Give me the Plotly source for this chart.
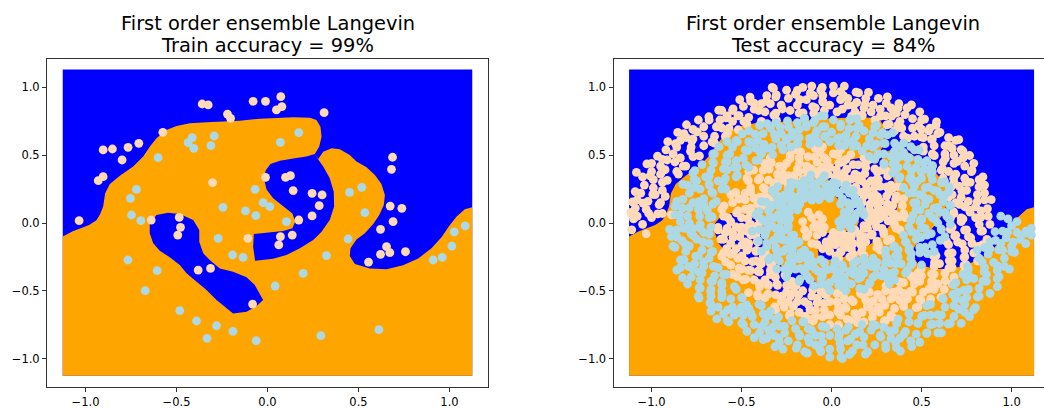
import plotly.graph_objects as go

# ---------------------------------------------------------------
# Decision regions of the ensemble (same grid for both panels)
# ---------------------------------------------------------------
grid_x = [-1.125, 1.125, 1.125, -1.125]
grid_y = [-1.127, -1.127, 1.132, 1.132]

# region predicted as the "orange" class
orange_region = [
    (-1.125, -0.100), (-1.07, -0.060), (-0.98, -0.015), (-0.94, 0.020), (-0.921, 0.060),
    (-0.903, 0.121), (-0.892, 0.219), (-0.866, 0.288), (-0.811, 0.349), (-0.738, 0.416),
    (-0.683, 0.490), (-0.647, 0.563), (-0.610, 0.625), (-0.555, 0.686), (-0.500, 0.716),
    (-0.427, 0.736), (-0.335, 0.743), (-0.244, 0.748), (-0.152, 0.755), (-0.042, 0.770),
    (0.049, 0.777), (0.141, 0.780), (0.233, 0.777), (0.269, 0.760), (0.291, 0.711),
    (0.297, 0.637), (0.284, 0.563), (0.260, 0.509), (0.278, 0.470), (0.306, 0.526),
    (0.352, 0.551), (0.397, 0.544), (0.452, 0.502), (0.489, 0.453), (0.544, 0.411),
    (0.590, 0.354), (0.626, 0.288), (0.645, 0.207), (0.639, 0.133), (0.614, 0.059),
    (0.581, -0.007), (0.535, -0.076), (0.489, -0.121), (0.456, -0.187), (0.452, -0.244),
    (0.480, -0.303), (0.562, -0.335), (0.654, -0.342), (0.745, -0.312), (0.828, -0.261),
    (0.901, -0.187), (0.956, -0.106), (0.998, -0.022), (1.038, 0.047), (1.084, 0.101),
    (1.125, 0.116), (1.125, -1.127), (-1.125, -1.127),
]

# "blue" pockets enclosed by the orange region
central_pocket = [
    (0.260, 0.509), (0.214, 0.490), (0.141, 0.475), (0.068, 0.460), (0.016, 0.435),
    (-0.011, 0.386), (-0.018, 0.317), (-0.005, 0.248), (0.031, 0.182), (0.086, 0.125),
    (0.137, 0.071), (0.152, 0.010), (0.137, -0.039), (0.086, -0.059), (0.013, -0.071),
    (-0.075, -0.081), (-0.079, -0.175), (-0.068, -0.278), (0.031, -0.263), (0.104, -0.236),
    (0.178, -0.187), (0.251, -0.125), (0.297, -0.064), (0.342, 0.022), (0.366, 0.121),
    (0.364, 0.231), (0.342, 0.330), (0.306, 0.416), (0.278, 0.470),
]

lower_left_pocket = [
    (-0.647, -0.002), (-0.610, 0.059), (-0.546, 0.076), (-0.482, 0.066), (-0.408, 0.022),
    (-0.375, -0.052), (-0.375, -0.138), (-0.353, -0.224), (-0.317, -0.273), (-0.262, -0.335),
    (-0.189, -0.359), (-0.115, -0.401), (-0.070, -0.458), (-0.042, -0.531), (-0.024, -0.568),
    (-0.060, -0.613), (-0.115, -0.654), (-0.189, -0.667), (-0.225, -0.630), (-0.280, -0.568),
    (-0.335, -0.494), (-0.390, -0.433), (-0.445, -0.371), (-0.482, -0.310), (-0.537, -0.253),
    (-0.592, -0.204), (-0.628, -0.150), (-0.647, -0.076),
]

# ---------------------------------------------------------------
# Training set
# ---------------------------------------------------------------
train_class0 = [
    (-1.035, 0.017), (-0.930, 0.312), (-0.903, 0.342), (-0.903, 0.539), (-0.852, 0.546),
    (-0.799, 0.465), (-0.766, 0.558), (-0.707, 0.588), (-0.575, 0.669), (-0.359, 0.878),
    (-0.326, 0.871), (-0.220, 0.804), (-0.203, 0.772), (-0.079, 0.898), (-0.011, 0.898),
    (0.073, 0.932), (0.049, 0.834), (0.079, 0.859), (0.311, 0.814), (-0.302, 0.298),
    (-0.485, 0.042), (-0.478, -0.032), (-0.493, -0.089), (-0.639, 0.022), (-0.381, -0.347),
    (-0.313, -0.335), (-0.108, -0.113), (-0.082, -0.598), (-0.011, 0.337), (0.099, 0.337),
    (0.126, 0.349), (0.141, 0.239), (0.245, 0.219), (0.300, 0.207), (0.284, 0.128),
    (0.245, 0.052), (0.172, 0.022), (0.071, -0.101), (0.062, -0.162), (0.136, -0.089),
    (0.687, 0.485), (0.681, 0.396), (0.674, 0.125), (0.738, 0.108), (0.690, 0.010),
    (0.621, -0.047), (0.654, -0.175), (0.621, -0.231), (0.672, -0.219), (0.758, -0.212),
    (0.555, -0.288),
]

train_class1 = [
    (-0.601, 0.482), (-0.436, 0.593), (-0.414, 0.630), (-0.405, 0.551), (-0.293, 0.642),
    (-0.311, 0.571), (0.172, 0.667), (0.071, 0.595), (-0.720, 0.248), (-0.753, 0.182),
    (-0.747, 0.059), (-0.696, 0.017), (-0.245, 0.116), (-0.271, -0.113), (-0.121, 0.089),
    (-0.068, 0.248), (-0.024, 0.150), (0.013, 0.121), (-0.064, 0.054), (0.104, 0.010),
    (-0.134, -0.253), (-0.192, -0.236), (-0.767, -0.273), (-0.606, -0.352), (-0.672, -0.499),
    (-0.482, -0.647), (-0.390, -0.723), (-0.280, -0.758), (-0.332, -0.851), (-0.190, -0.800),
    (-0.062, -0.868), (0.042, -0.465), (0.196, -0.371), (0.324, -0.241), (0.293, -0.831),
    (0.612, -0.787), (0.443, -0.118), (0.535, 0.076), (0.451, 0.226), (0.518, 0.263),
    (0.910, -0.273), (0.960, -0.253), (1.013, -0.170), (1.026, -0.066), (1.086, -0.022),
]

# ---------------------------------------------------------------
# Test set: two interleaved spirals, listed arm by arm
# ---------------------------------------------------------------
test0_arm1 = [
    (-1.11, -0.05), (-1.03, -0.08), (-1.05, -0.01), (-1.10, 0.03), (-1.00, 0.04), (-1.08, 0.05),
    (-1.11, 0.06), (-1.03, 0.10), (-1.09, 0.11), (-0.95, 0.15), (-1.02, 0.16), (-1.08, 0.17),
    (-0.98, 0.21), (-1.06, 0.22), (-0.94, 0.07), (-0.89, 0.06),
    (-0.94, 0.24), (-1.04, 0.28), (-0.99, 0.26), (-1.05, 0.34), (-0.94, 0.30), (-0.99, 0.32),
    (-0.95, 0.36), (-1.00, 0.38), (-0.86, 0.38), (-0.95, 0.42), (-1.00, 0.44), (-0.87, 0.45),
    (-0.94, 0.47), (-0.81, 0.42),
    (-0.92, 0.54), (-0.84, 0.48), (-0.88, 0.51), (-0.77, 0.49), (-0.86, 0.56), (-0.91, 0.60),
    (-0.78, 0.56), (-0.84, 0.61), (-0.71, 0.57), (-0.77, 0.62), (-0.82, 0.66), (-0.71, 0.64),
    (-0.77, 0.69), (-0.65, 0.59),
    (-0.65, 0.64), (-0.71, 0.71), (-0.74, 0.76), (-0.64, 0.71), (-0.68, 0.76), (-0.59, 0.64),
    (-0.62, 0.76), (-0.57, 0.70), (-0.61, 0.83), (-0.55, 0.75), (-0.58, 0.79), (-0.47, 0.73),
    (-0.52, 0.79), (-0.55, 0.83),
    (-0.49, 0.86), (-0.46, 0.78), (-0.51, 0.91), (-0.39, 0.75), (-0.43, 0.84), (-0.45, 0.90),
    (-0.37, 0.82), (-0.39, 0.88), (-0.36, 0.94), (-0.31, 0.81), (-0.34, 0.88), (-0.28, 0.87),
    (-0.31, 0.93), (-0.33, 1.00),
    (-0.23, 0.83), (-0.24, 0.92), (-0.25, 0.98), (-0.19, 0.87), (-0.20, 0.95), (-0.18, 0.81),
    (-0.14, 0.91), (-0.16, 1.00), (-0.09, 0.85), (-0.10, 0.94), (-0.11, 1.01), (-0.05, 0.90),
    (-0.06, 0.98), (-0.04, 0.83),
    (-1.016, 0.071), (-1.115, 0.078), (-0.966, 0.068), (-1.047, 0.147), (-0.958, 0.135),
    (-1.106, 0.155), (-1.091, 0.232), (-0.993, 0.211), (-0.924, 0.196), (-0.913, 0.315),
    (-1.008, 0.347), (-1.084, 0.373), (-1.026, 0.436), (-0.925, 0.393), (-0.851, 0.361),
    (-0.824, 0.420), (-0.913, 0.465), (-0.967, 0.493), (-0.867, 0.585), (-0.784, 0.529),
    (-0.734, 0.495), (-0.776, 0.606), (-0.855, 0.668), (-0.808, 0.631), (-0.664, 0.598),
    (-0.746, 0.672), (-0.806, 0.725), (-0.682, 0.784), (-0.610, 0.701), (-0.577, 0.663),
    (-0.519, 0.688), (-0.585, 0.776), (-0.627, 0.832), (-0.547, 0.842), (-0.487, 0.750),
    (-0.514, 0.792), (-0.405, 0.830), (-0.453, 0.928), (-0.431, 0.884), (-0.321, 0.796),
    (-0.363, 0.898), (-0.306, 0.758), (-0.307, 0.945), (-0.273, 0.841), (-0.323, 0.993),
    (-0.177, 0.910), (-0.158, 0.812), (-0.190, 0.979), (-0.118, 0.958), (-0.105, 0.859),
    (-0.099, 0.809), (-0.047, 0.891), (-0.052, 1.001), (-0.049, 0.941),
]
test0_arm2 = [
    (0.01, 0.96), (-0.01, 0.87), (0.01, 1.01), (0.05, 0.91), (0.03, 0.82), (0.05, 0.97),
    (0.09, 0.87), (0.09, 0.92), (0.15, 0.96), (0.13, 0.82), (0.14, 0.89), (0.18, 0.85),
    (0.19, 0.92), (0.17, 0.79),
    (0.26, 0.92), (0.22, 0.82), (0.23, 0.87), (0.31, 0.93), (0.24, 0.76), (0.27, 0.84),
    (0.33, 0.85), (0.30, 0.79), (0.32, 0.73), (0.37, 0.85), (0.36, 0.81), (0.38, 0.75),
    (0.42, 0.85), (0.35, 0.68),
    (0.45, 0.77), (0.39, 0.70), (0.49, 0.82), (0.45, 0.70), (0.50, 0.76), (0.40, 0.64),
    (0.50, 0.69), (0.46, 0.64), (0.58, 0.72), (0.51, 0.63), (0.54, 0.68), (0.51, 0.56),
    (0.56, 0.62), (0.59, 0.66),
    (0.57, 0.57), (0.65, 0.63), (0.51, 0.53), (0.63, 0.57), (0.56, 0.51), (0.69, 0.61),
    (0.63, 0.51), (0.67, 0.55), (0.62, 0.45), (0.68, 0.50), (0.73, 0.53), (0.61, 0.39),
    (0.68, 0.44), (0.73, 0.48),
    (0.74, 0.42), (0.65, 0.38), (0.79, 0.44), (0.69, 0.36), (0.78, 0.39), (0.62, 0.33),
    (0.74, 0.33), (0.68, 0.30), (0.82, 0.32), (0.71, 0.27), (0.77, 0.30), (0.67, 0.21),
    (0.75, 0.24), (0.85, 0.28), (0.85, 0.22),
    (0.81, 0.21), (0.72, 0.19), (0.65, 0.19), (0.76, 0.16), (0.85, 0.17), (0.69, 0.15),
    (0.80, 0.12), (0.74, 0.12), (0.68, 0.07), (0.83, 0.09), (0.77, 0.08), (0.73, 0.03),
    (0.80, 0.04), (0.87, 0.05),
    (0.059, 0.840), (0.066, 0.940), (0.071, 1.010), (0.136, 0.965), (0.122, 0.866),
    (0.111, 0.786), (0.186, 0.876), (0.205, 0.964), (0.170, 0.798), (0.304, 0.882),
    (0.271, 0.788), (0.248, 0.721), (0.334, 0.788), (0.374, 0.880), (0.307, 0.724),
    (0.408, 0.800), (0.367, 0.720), (0.444, 0.871), (0.422, 0.626), (0.484, 0.717),
    (0.517, 0.767), (0.583, 0.746), (0.497, 0.636), (0.546, 0.699), (0.555, 0.617),
    (0.488, 0.542), (0.602, 0.669), (0.654, 0.569), (0.571, 0.497), (0.707, 0.615),
    (0.632, 0.476), (0.720, 0.542), (0.560, 0.422), (0.700, 0.455), (0.616, 0.400),
    (0.767, 0.498), (0.678, 0.331), (0.777, 0.379), (0.615, 0.300), (0.748, 0.302),
    (0.841, 0.340), (0.665, 0.269), (0.724, 0.235), (0.819, 0.266), (0.648, 0.210),
    (0.809, 0.157), (0.711, 0.138), (0.887, 0.172), (0.767, 0.094), (0.866, 0.106),
    (0.678, 0.083), (0.830, 0.043), (0.720, 0.038), (0.660, 0.035),
]
test0_arm3 = [
    (0.72, 0.01), (0.82, -0.01), (0.88, -0.01), (0.75, -0.05), (0.83, -0.06), (0.67, -0.03),
    (0.76, -0.10), (0.69, -0.09), (0.78, -0.15), (0.70, -0.14), (0.84, -0.16),
    (0.65, -0.16), (0.74, -0.20), (0.79, -0.22), (0.67, -0.22), (0.74, -0.25), (0.58, -0.24),
    (0.67, -0.28), (0.75, -0.31), (0.60, -0.30), (0.67, -0.33), (0.74, -0.36),
    (0.57, -0.32), (0.63, -0.37), (0.68, -0.40), (0.57, -0.38), (0.67, -0.45), (0.48, -0.37),
    (0.59, -0.45), (0.56, -0.43), (0.49, -0.43), (0.57, -0.49), (0.44, -0.39),
    (0.51, -0.51), (0.46, -0.45), (0.55, -0.56), (0.40, -0.44), (0.45, -0.51), (0.49, -0.56),
    (0.40, -0.52), (0.48, -0.62), (0.40, -0.59), (0.34, -0.51), (0.38, -0.57),
    (0.30, -0.50), (0.35, -0.63), (0.33, -0.56), (0.33, -0.68), (0.28, -0.56), (0.26, -0.62),
    (0.21, -0.51), (0.30, -0.72), (0.19, -0.57), (0.23, -0.66), (0.21, -0.62),
    (0.16, -0.52), (0.17, -0.66), (0.18, -0.73), (0.12, -0.58), (0.14, -0.69), (0.07, -0.56),
    (0.08, -0.63), (0.10, -0.72), (0.04, -0.62), (0.05, -0.68), (0.03, -0.52),
    (0.739, -0.052), (0.839, -0.059), (0.659, -0.046), (0.773, -0.109), (0.684, -0.096),
    (0.863, -0.121), (0.726, -0.154), (0.814, -0.173), (0.638, -0.136), (0.736, -0.253),
    (0.650, -0.224), (0.811, -0.279), (0.654, -0.277), (0.736, -0.313), (0.562, -0.238),
    (0.652, -0.332), (0.572, -0.291), (0.732, -0.373), (0.556, -0.375), (0.631, -0.426),
    (0.498, -0.336), (0.626, -0.489), (0.555, -0.433), (0.500, -0.390), (0.541, -0.487),
    (0.452, -0.407), (0.608, -0.547), (0.438, -0.503), (0.497, -0.571), (0.379, -0.435),
    (0.422, -0.560), (0.374, -0.496), (0.470, -0.624), (0.351, -0.541), (0.400, -0.616),
    (0.302, -0.465), (0.296, -0.607), (0.256, -0.526), (0.340, -0.697), (0.232, -0.575),
    (0.266, -0.658), (0.292, -0.723), (0.227, -0.699), (0.199, -0.613), (0.171, -0.528),
    (0.130, -0.667), (0.110, -0.568), (0.143, -0.735), (0.076, -0.621), (0.087, -0.711),
    (0.065, -0.532), (0.034, -0.652), (0.030, -0.582), (0.039, -0.752),
]
test0_arm4 = [
    (-0.01, -0.58), (-0.01, -0.68), (-0.01, -0.75), (-0.03, -0.53), (-0.04, -0.64), (-0.09, -0.69),
    (-0.08, -0.59), (-0.06, -0.50), (-0.12, -0.64), (-0.11, -0.54), (-0.13, -0.71),
    (-0.15, -0.58), (-0.18, -0.66), (-0.16, -0.50), (-0.19, -0.58), (-0.23, -0.67), (-0.24, -0.58),
    (-0.21, -0.51), (-0.22, -0.43), (-0.28, -0.58), (-0.25, -0.51), (-0.31, -0.64),
    (-0.25, -0.46), (-0.31, -0.53), (-0.37, -0.55), (-0.30, -0.46), (-0.25, -0.39), (-0.35, -0.46),
    (-0.41, -0.54), (-0.34, -0.38), (-0.40, -0.47), (-0.37, -0.42), (-0.31, -0.35),
    (-0.43, -0.42), (-0.34, -0.35), (-0.40, -0.36), (-0.49, -0.42), (-0.33, -0.30), (-0.45, -0.35),
    (-0.39, -0.30), (-0.42, -0.28), (-0.50, -0.34), (-0.55, -0.38), (-0.38, -0.25),
    (-0.48, -0.28), (-0.56, -0.31), (-0.42, -0.21), (-0.52, -0.26), (-0.37, -0.20), (-0.47, -0.20),
    (-0.56, -0.23), (-0.46, -0.15), (-0.53, -0.19), (-0.60, -0.22), (-0.41, -0.14),
    (-0.56, -0.15), (-0.48, -0.14), (-0.42, -0.09), (-0.51, -0.10), (-0.60, -0.12), (-0.55, -0.07),
    (-0.47, -0.06), (-0.41, -0.02), (-0.58, -0.04), (-0.50, -0.03), (-0.63, -0.05),
    (-0.042, -0.594), (-0.049, -0.693), (-0.037, -0.524), (-0.090, -0.644), (-0.078, -0.555),
    (-0.102, -0.723), (-0.128, -0.602), (-0.147, -0.690), (-0.105, -0.494), (-0.212, -0.616),
    (-0.183, -0.531), (-0.235, -0.683), (-0.228, -0.537), (-0.263, -0.620), (-0.197, -0.463),
    (-0.275, -0.539), (-0.234, -0.459), (-0.316, -0.619), (-0.304, -0.450), (-0.354, -0.525),
    (-0.259, -0.384), (-0.411, -0.526), (-0.355, -0.455), (-0.312, -0.400), (-0.402, -0.447),
    (-0.322, -0.357), (-0.462, -0.513), (-0.409, -0.356), (-0.477, -0.415), (-0.341, -0.297),
    (-0.461, -0.347), (-0.397, -0.299), (-0.525, -0.395), (-0.439, -0.285), (-0.514, -0.334),
    (-0.363, -0.236), (-0.498, -0.243), (-0.417, -0.203), (-0.588, -0.287), (-0.462, -0.187),
    (-0.545, -0.220), (-0.610, -0.246), (-0.583, -0.189), (-0.497, -0.162), (-0.412, -0.134),
    (-0.547, -0.106), (-0.449, -0.087), (-0.615, -0.120), (-0.500, -0.061), (-0.590, -0.072),
    (-0.411, -0.050), (-0.531, -0.028), (-0.461, -0.024), (-0.631, -0.033),
]
test0_arm5 = [
    (-0.56, 0.01), (-0.45, -0.01), (-0.50, 0.04), (-0.60, 0.05), (-0.40, 0.03), (-0.52, 0.09),
    (-0.45, 0.08), (-0.61, 0.10),
    (-0.45, 0.11), (-0.55, 0.15), (-0.38, 0.13), (-0.48, 0.17), (-0.56, 0.21), (-0.40, 0.19),
    (-0.48, 0.22), (-0.34, 0.16),
    (-0.45, 0.26), (-0.37, 0.20), (-0.47, 0.33), (-0.38, 0.26), (-0.31, 0.21), (-0.40, 0.33),
    (-0.32, 0.27), (-0.46, 0.38),
    (-0.31, 0.30), (-0.38, 0.39), (-0.30, 0.36), (-0.37, 0.44), (-0.24, 0.28), (-0.29, 0.42),
    (-0.24, 0.35), (-0.34, 0.48),
    (-0.25, 0.44), (-0.21, 0.35), (-0.23, 0.50), (-0.19, 0.40), (-0.16, 0.32), (-0.18, 0.48),
    (-0.14, 0.39), (-0.20, 0.54),
    (-0.11, 0.40), (-0.13, 0.49), (-0.09, 0.55), (-0.08, 0.45), (-0.07, 0.35), (-0.04, 0.48),
    (-0.03, 0.39), (-0.05, 0.56),
    (-0.466, 0.033), (-0.576, 0.040), (-0.528, 0.074), (-0.419, 0.059), (-0.479, 0.102),
    (-0.597, 0.127), (-0.514, 0.177), (-0.410, 0.141), (-0.432, 0.183), (-0.533, 0.226),
    (-0.449, 0.229), (-0.351, 0.179), (-0.371, 0.251), (-0.463, 0.312), (-0.407, 0.318),
    (-0.320, 0.250), (-0.351, 0.316), (-0.433, 0.390), (-0.346, 0.398), (-0.274, 0.315),
    (-0.268, 0.356), (-0.335, 0.444), (-0.269, 0.414), (-0.209, 0.322), (-0.183, 0.376),
    (-0.231, 0.475), (-0.178, 0.440), (-0.137, 0.338), (-0.137, 0.420), (-0.171, 0.525),
    (-0.095, 0.488), (-0.074, 0.380), (-0.050, 0.411), (-0.064, 0.520), (-0.024, 0.460),
    (-0.019, 0.360),
]
test0_arm6 = [
    (0.01, 0.51), (-0.01, 0.41), (0.02, 0.34), (0.04, 0.44), (0.05, 0.54), (0.07, 0.37),
    (0.08, 0.47), (0.06, 0.30),
    (0.12, 0.43), (0.08, 0.33), (0.18, 0.48), (0.13, 0.36), (0.09, 0.27), (0.19, 0.41),
    (0.15, 0.32), (0.21, 0.47),
    (0.17, 0.31), (0.24, 0.40), (0.22, 0.31), (0.28, 0.39), (0.15, 0.23), (0.26, 0.32),
    (0.20, 0.24), (0.31, 0.38),
    (0.27, 0.27), (0.18, 0.20), (0.33, 0.28), (0.24, 0.21), (0.17, 0.15), (0.32, 0.23),
    (0.24, 0.17), (0.37, 0.27),
    (0.27, 0.16), (0.36, 0.20), (0.31, 0.14), (0.21, 0.10), (0.40, 0.18), (0.26, 0.09),
    (0.34, 0.13), (0.20, 0.06),
    (0.33, 0.08), (0.24, 0.07), (0.40, 0.07), (0.29, 0.05), (0.20, 0.04), (0.34, 0.03),
    (0.25, 0.02), (0.41, 0.04),
    (0.027, 0.391), (0.035, 0.501), (0.063, 0.450), (0.048, 0.341), (0.084, 0.397),
    (0.107, 0.505), (0.148, 0.429), (0.112, 0.325), (0.147, 0.347), (0.190, 0.448),
    (0.185, 0.364), (0.135, 0.266), (0.192, 0.285), (0.254, 0.376), (0.250, 0.320),
    (0.182, 0.233), (0.239, 0.265), (0.312, 0.347), (0.306, 0.266), (0.223, 0.194),
    (0.256, 0.193), (0.343, 0.259), (0.306, 0.199), (0.214, 0.139), (0.257, 0.125),
    (0.356, 0.174), (0.315, 0.127), (0.213, 0.086), (0.289, 0.094), (0.394, 0.128),
    (0.348, 0.068), (0.240, 0.047), (0.267, 0.033), (0.376, 0.046), (0.314, 0.016),
    (0.214, 0.011),
]
test0_arm7 = [
    (0.24, 0.01), (0.35, -0.01), (0.28, -0.04), (0.38, -0.05), (0.18, -0.02),
    (0.29, -0.08), (0.20, -0.04), (0.31, -0.13), (0.22, -0.09), (0.13, -0.05),
    (0.18, -0.10), (0.26, -0.16), (0.19, -0.14), (0.27, -0.20), (0.11, -0.08),
    (0.17, -0.18), (0.11, -0.10), (0.18, -0.24), (0.12, -0.15), (0.06, -0.08),
    (0.08, -0.14), (0.12, -0.23), (0.08, -0.18), (0.12, -0.28), (0.04, -0.09),
    (0.05, -0.21), (0.04, -0.12), (0.04, -0.26), (0.02, -0.16), (0.01, -0.07),
    (0.249, -0.026), (0.358, -0.038), (0.289, -0.061), (0.181, -0.038), (0.226, -0.082),
    (0.329, -0.120), (0.252, -0.134), (0.155, -0.082), (0.162, -0.118), (0.251, -0.182),
    (0.161, -0.156), (0.096, -0.093), (0.099, -0.126), (0.166, -0.213), (0.110, -0.191),
    (0.060, -0.104), (0.064, -0.158), (0.101, -0.250), (0.053, -0.213), (0.027, -0.107),
    (0.015, -0.143), (0.025, -0.243),
]
test0_arm8 = [
    (-0.01, -0.21), (0.00, -0.11), (-0.03, -0.14), (-0.05, -0.19), (-0.06, -0.06),
    (-0.11, -0.15), (-0.05, -0.07), (-0.08, -0.09), (-0.14, -0.10), (-0.04, -0.03),
    (-0.15, -0.05), (-0.06, -0.01), (-0.10, -0.03), (-0.16, 0.01), (-0.05, 0.03), (-0.11, 0.04),
    (-0.02, -0.17), (-0.08, -0.16), (-0.09, -0.01), (-0.13, -0.08), (-0.07, 0.06), (-0.13, 0.08),
]

test1_arm1 = [
    (1.11, -0.04), (1.00, -0.02), (0.98, 0.03), (1.03, 0.01), (0.94, 0.05), (1.08, -0.06),
    (1.03, -0.07), (1.11, -0.09), (0.95, -0.06), (0.97, -0.11), (1.05, -0.12), (0.88, -0.14),
    (1.00, -0.17), (0.94, -0.15), (1.00, -0.21), (0.88, -0.19), (0.95, -0.20),
    (0.87, -0.23), (0.96, -0.26), (0.81, -0.20), (0.96, -0.32), (0.90, -0.29), (0.82, -0.26),
    (0.85, -0.33), (0.92, -0.35), (0.76, -0.34), (0.86, -0.38), (0.92, -0.41), (0.79, -0.41),
    (0.86, -0.43), (0.73, -0.38),
    (0.82, -0.48), (0.75, -0.42), (0.88, -0.52), (0.76, -0.49), (0.82, -0.54), (0.69, -0.44),
    (0.75, -0.55), (0.70, -0.51), (0.79, -0.64), (0.69, -0.56), (0.74, -0.60), (0.62, -0.56),
    (0.68, -0.61), (0.74, -0.66),
    (0.63, -0.62), (0.68, -0.69), (0.72, -0.74), (0.55, -0.60), (0.61, -0.68), (0.66, -0.74),
    (0.55, -0.68), (0.60, -0.74), (0.59, -0.81), (0.50, -0.69), (0.55, -0.75), (0.48, -0.74),
    (0.53, -0.81), (0.43, -0.67),
    (0.47, -0.82), (0.43, -0.73), (0.49, -0.88), (0.37, -0.71), (0.41, -0.80), (0.44, -0.87),
    (0.35, -0.79), (0.38, -0.85), (0.36, -0.92), (0.29, -0.77), (0.33, -0.85), (0.27, -0.83),
    (0.30, -0.90), (0.23, -0.75),
    (0.24, -0.90), (0.22, -0.79), (0.20, -0.95), (0.18, -0.84), (0.17, -0.75), (0.14, -0.90),
    (0.13, -0.82), (0.10, -0.97), (0.08, -0.79), (0.09, -0.87), (0.05, -0.93), (0.04, -0.85),
    (0.06, -1.00), (0.03, -0.78),
    (0.978, -0.068), (1.077, -0.075), (0.908, -0.064), (1.010, -0.142), (0.911, -0.128),
    (1.079, -0.152), (0.929, -0.198), (1.017, -0.216), (0.851, -0.181), (0.922, -0.317),
    (0.837, -0.288), (0.988, -0.340), (0.847, -0.359), (0.930, -0.395), (0.755, -0.320),
    (0.841, -0.429), (0.761, -0.388), (0.921, -0.469), (0.735, -0.496), (0.810, -0.546),
    (0.677, -0.457), (0.799, -0.624), (0.728, -0.569), (0.673, -0.526), (0.707, -0.637),
    (0.618, -0.557), (0.767, -0.691), (0.589, -0.677), (0.648, -0.745), (0.529, -0.609),
    (0.562, -0.746), (0.514, -0.682), (0.610, -0.810), (0.479, -0.738), (0.528, -0.814),
    (0.430, -0.663), (0.401, -0.822), (0.362, -0.742), (0.445, -0.912), (0.322, -0.797),
    (0.356, -0.881), (0.382, -0.946), (0.301, -0.926), (0.273, -0.841), (0.245, -0.755),
    (0.175, -0.899), (0.156, -0.801), (0.188, -0.968), (0.105, -0.857), (0.116, -0.946),
    (0.094, -0.767), (0.047, -0.890), (0.043, -0.820), (0.052, -0.990),
]
test1_arm2 = [
    (-0.01, -0.83), (-0.01, -0.93), (-0.01, -0.99), (-0.03, -0.77), (-0.05, -0.88), (-0.06, -0.95),
    (-0.09, -0.83), (-0.09, -0.90), (-0.15, -0.95), (-0.13, -0.78), (-0.13, -0.85), (-0.18, -0.82),
    (-0.19, -0.90), (-0.16, -0.73),
    (-0.24, -0.87), (-0.20, -0.78), (-0.27, -0.93), (-0.22, -0.72), (-0.26, -0.81), (-0.29, -0.88),
    (-0.29, -0.76), (-0.32, -0.83), (-0.38, -0.86), (-0.31, -0.71), (-0.35, -0.79), (-0.37, -0.73),
    (-0.40, -0.81), (-0.34, -0.65),
    (-0.43, -0.75), (-0.38, -0.67), (-0.47, -0.80), (-0.44, -0.69), (-0.49, -0.75), (-0.39, -0.61),
    (-0.49, -0.68), (-0.46, -0.63), (-0.58, -0.72), (-0.50, -0.62), (-0.54, -0.68), (-0.50, -0.55),
    (-0.55, -0.62), (-0.60, -0.67),
    (-0.56, -0.56), (-0.63, -0.62), (-0.67, -0.65), (-0.53, -0.49), (-0.61, -0.55), (-0.67, -0.60),
    (-0.61, -0.50), (-0.67, -0.54), (-0.74, -0.54), (-0.61, -0.44), (-0.67, -0.49), (-0.67, -0.43),
    (-0.73, -0.48), (-0.60, -0.38),
    (-0.73, -0.42), (-0.65, -0.39), (-0.80, -0.45), (-0.63, -0.33), (-0.72, -0.37), (-0.78, -0.40),
    (-0.71, -0.32), (-0.77, -0.34), (-0.84, -0.33), (-0.68, -0.26), (-0.76, -0.30), (-0.74, -0.24),
    (-0.82, -0.27), (-0.66, -0.21),
    (-0.81, -0.21), (-0.72, -0.20), (-0.68, -0.15), (-0.79, -0.17), (-0.87, -0.18), (-0.75, -0.12),
    (-0.83, -0.13), (-0.89, -0.10), (-0.71, -0.07), (-0.78, -0.08), (-0.77, -0.04), (-0.86, -0.05),
    (-0.67, -0.03), (-0.82, -0.04),
    (-0.058, -0.833), (-0.065, -0.933), (-0.053, -0.763), (-0.124, -0.880), (-0.111, -0.791),
    (-0.135, -0.960), (-0.178, -0.835), (-0.196, -0.923), (-0.155, -0.728), (-0.292, -0.847),
    (-0.262, -0.762), (-0.315, -0.913), (-0.325, -0.766), (-0.360, -0.849), (-0.294, -0.692),
    (-0.390, -0.764), (-0.349, -0.684), (-0.430, -0.845), (-0.448, -0.664), (-0.498, -0.739),
    (-0.403, -0.598), (-0.571, -0.730), (-0.515, -0.660), (-0.472, -0.604), (-0.577, -0.641),
    (-0.497, -0.552), (-0.638, -0.708), (-0.608, -0.529), (-0.676, -0.588), (-0.540, -0.470),
    (-0.672, -0.507), (-0.609, -0.459), (-0.736, -0.555), (-0.661, -0.429), (-0.736, -0.478),
    (-0.585, -0.380), (-0.738, -0.360), (-0.657, -0.320), (-0.828, -0.404), (-0.711, -0.287),
    (-0.795, -0.321), (-0.860, -0.347), (-0.840, -0.273), (-0.754, -0.245), (-0.669, -0.217),
    (-0.812, -0.158), (-0.714, -0.139), (-0.881, -0.171), (-0.768, -0.094), (-0.858, -0.105),
    (-0.679, -0.083), (-0.800, -0.042), (-0.730, -0.038), (-0.900, -0.047),
]
test1_arm3 = [
    (-0.84, 0.01), (-0.73, -0.01), (-0.79, 0.00), (-0.68, 0.04), (-0.80, 0.05), (-0.87, 0.06),
    (-0.74, 0.10), (-0.83, 0.11), (-0.69, 0.09), (-0.86, 0.16), (-0.71, 0.14), (-0.77, 0.15),
    (-0.71, 0.18), (-0.79, 0.22), (-0.64, 0.16), (-0.73, 0.25), (-0.80, 0.28), (-0.66, 0.22),
    (-0.68, 0.28), (-0.75, 0.31), (-0.61, 0.25), (-0.70, 0.34), (-0.63, 0.31), (-0.77, 0.37),
    (-0.67, 0.39), (-0.59, 0.33), (-0.72, 0.43), (-0.60, 0.40), (-0.66, 0.45), (-0.53, 0.34),
    (-0.59, 0.45), (-0.54, 0.41), (-0.66, 0.51), (-0.53, 0.46), (-0.58, 0.50), (-0.46, 0.41),
    (-0.49, 0.48), (-0.55, 0.56), (-0.58, 0.60), (-0.42, 0.46), (-0.48, 0.54), (-0.53, 0.61),
    (-0.42, 0.55), (-0.46, 0.60), (-0.39, 0.51), (-0.46, 0.68), (-0.36, 0.55), (-0.41, 0.61),
    (-0.38, 0.66), (-0.33, 0.56), (-0.40, 0.72), (-0.31, 0.62), (-0.34, 0.70), (-0.27, 0.54),
    (-0.28, 0.66), (-0.25, 0.61), (-0.31, 0.74), (-0.22, 0.64), (-0.24, 0.71), (-0.19, 0.59),
    (-0.19, 0.74), (-0.18, 0.63), (-0.18, 0.69), (-0.12, 0.58), (-0.14, 0.71), (-0.15, 0.77),
    (-0.09, 0.65), (-0.10, 0.74), (-0.08, 0.60), (-0.05, 0.71), (-0.04, 0.64), (-0.06, 0.79),
    (-0.733, 0.051), (-0.843, 0.059), (-0.663, 0.046), (-0.791, 0.111), (-0.692, 0.097),
    (-0.870, 0.122), (-0.738, 0.157), (-0.826, 0.175), (-0.659, 0.140), (-0.760, 0.262),
    (-0.666, 0.229), (-0.826, 0.285), (-0.680, 0.289), (-0.763, 0.324), (-0.588, 0.250),
    (-0.680, 0.346), (-0.600, 0.306), (-0.760, 0.387), (-0.581, 0.392), (-0.656, 0.442),
    (-0.523, 0.353), (-0.651, 0.509), (-0.580, 0.453), (-0.525, 0.410), (-0.566, 0.509),
    (-0.476, 0.429), (-0.625, 0.563), (-0.464, 0.534), (-0.523, 0.601), (-0.405, 0.466),
    (-0.448, 0.594), (-0.400, 0.530), (-0.496, 0.658), (-0.376, 0.580), (-0.425, 0.655),
    (-0.327, 0.504), (-0.318, 0.653), (-0.279, 0.572), (-0.358, 0.733), (-0.252, 0.625),
    (-0.286, 0.708), (-0.226, 0.560), (-0.245, 0.753), (-0.217, 0.668), (-0.189, 0.582),
    (-0.141, 0.723), (-0.122, 0.625), (-0.150, 0.773), (-0.083, 0.679), (-0.093, 0.758),
    (-0.072, 0.590), (-0.037, 0.711), (-0.034, 0.641), (-0.041, 0.791),
]
test1_arm4 = [
    (0.00, 0.67), (0.01, 0.76), (-0.01, 0.60), (0.05, 0.71), (0.03, 0.62), (0.10, 0.76),
    (0.08, 0.65), (0.07, 0.57), (0.14, 0.70), (0.12, 0.61), (0.14, 0.77),
    (0.14, 0.57), (0.18, 0.68), (0.21, 0.62), (0.24, 0.71), (0.17, 0.53), (0.23, 0.56),
    (0.27, 0.65), (0.29, 0.59), (0.26, 0.51), (0.31, 0.65), (0.24, 0.47),
    (0.35, 0.59), (0.29, 0.51), (0.29, 0.44), (0.35, 0.53), (0.40, 0.59), (0.36, 0.47),
    (0.40, 0.52), (0.46, 0.54), (0.37, 0.41), (0.42, 0.48), (0.34, 0.37),
    (0.42, 0.42), (0.48, 0.47), (0.38, 0.34), (0.47, 0.41), (0.53, 0.46), (0.44, 0.34),
    (0.52, 0.40), (0.56, 0.38), (0.45, 0.30), (0.50, 0.33), (0.40, 0.26),
    (0.56, 0.32), (0.46, 0.27), (0.52, 0.26), (0.61, 0.30), (0.43, 0.22), (0.57, 0.24),
    (0.49, 0.21), (0.65, 0.23), (0.52, 0.18), (0.60, 0.21), (0.47, 0.15),
    (0.52, 0.14), (0.62, 0.16), (0.57, 0.11), (0.47, 0.10), (0.66, 0.13), (0.54, 0.07),
    (0.60, 0.08), (0.64, 0.05), (0.50, 0.03), (0.44, 0.02), (0.56, 0.04),
    (0.044, 0.630), (0.051, 0.730), (0.040, 0.571), (0.098, 0.697), (0.084, 0.598),
    (0.108, 0.766), (0.136, 0.642), (0.153, 0.720), (0.120, 0.563), (0.229, 0.664),
    (0.196, 0.569), (0.248, 0.720), (0.248, 0.584), (0.283, 0.666), (0.209, 0.492),
    (0.298, 0.585), (0.257, 0.504), (0.339, 0.665), (0.331, 0.491), (0.381, 0.565),
    (0.292, 0.433), (0.440, 0.563), (0.384, 0.492), (0.341, 0.437), (0.432, 0.480),
    (0.352, 0.391), (0.486, 0.539), (0.443, 0.385), (0.511, 0.444), (0.375, 0.326),
    (0.498, 0.375), (0.434, 0.327), (0.561, 0.423), (0.476, 0.309), (0.552, 0.358),
    (0.401, 0.260), (0.538, 0.263), (0.457, 0.223), (0.628, 0.306), (0.504, 0.204),
    (0.588, 0.237), (0.653, 0.264), (0.627, 0.204), (0.541, 0.176), (0.456, 0.148),
    (0.590, 0.115), (0.492, 0.096), (0.659, 0.128), (0.542, 0.067), (0.631, 0.078),
    (0.453, 0.056), (0.571, 0.030), (0.501, 0.026), (0.651, 0.034),
]
test1_arm5 = [
    (0.59, 0.00), (0.49, 0.01), (0.66, -0.01), (0.52, -0.04), (0.61, -0.05), (0.43, -0.03),
    (0.53, -0.09), (0.47, -0.08), (0.63, -0.10),
    (0.47, -0.12), (0.56, -0.16), (0.40, -0.09), (0.49, -0.18), (0.41, -0.14), (0.57, -0.21),
    (0.43, -0.20), (0.49, -0.22), (0.35, -0.17),
    (0.44, -0.26), (0.37, -0.20), (0.50, -0.31), (0.37, -0.25), (0.44, -0.31), (0.30, -0.20),
    (0.36, -0.30), (0.31, -0.26), (0.42, -0.35),
    (0.30, -0.29), (0.35, -0.36), (0.29, -0.34), (0.23, -0.26), (0.35, -0.42), (0.22, -0.32),
    (0.28, -0.39), (0.18, -0.26), (0.32, -0.45),
    (0.23, -0.40), (0.19, -0.31), (0.18, -0.37), (0.21, -0.45), (0.14, -0.28), (0.15, -0.41),
    (0.12, -0.34), (0.18, -0.49), (0.13, -0.37),
    (0.10, -0.36), (0.11, -0.45), (0.08, -0.50), (0.06, -0.31), (0.07, -0.40), (0.03, -0.38),
    (0.04, -0.46), (0.02, -0.28), (0.04, -0.43),
    (0.499, -0.035), (0.609, -0.043), (0.554, -0.078), (0.445, -0.063), (0.497, -0.106),
    (0.604, -0.128), (0.519, -0.179), (0.415, -0.143), (0.431, -0.183), (0.532, -0.226),
    (0.443, -0.226), (0.345, -0.176), (0.356, -0.240), (0.447, -0.301), (0.387, -0.302),
    (0.300, -0.235), (0.329, -0.296), (0.411, -0.370), (0.324, -0.373), (0.252, -0.290),
    (0.246, -0.327), (0.312, -0.414), (0.248, -0.382), (0.188, -0.289), (0.165, -0.339),
    (0.213, -0.438), (0.162, -0.401), (0.121, -0.299), (0.123, -0.379), (0.157, -0.483),
    (0.085, -0.440), (0.064, -0.332), (0.044, -0.361), (0.058, -0.470), (0.021, -0.410),
    (0.016, -0.311),
]
test1_arm6 = [
    (-0.01, -0.44), (0.01, -0.34), (-0.01, -0.50), (-0.05, -0.36), (-0.06, -0.45), (-0.04, -0.29),
    (-0.05, -0.39),
    (-0.09, -0.34), (-0.12, -0.42), (-0.06, -0.27), (-0.15, -0.36), (-0.11, -0.28), (-0.18, -0.43),
    (-0.13, -0.32),
    (-0.20, -0.34), (-0.14, -0.26), (-0.25, -0.40), (-0.20, -0.26), (-0.26, -0.34), (-0.15, -0.20),
    (-0.22, -0.29),
    (-0.22, -0.22), (-0.29, -0.28), (-0.27, -0.21), (-0.35, -0.27), (-0.20, -0.15), (-0.30, -0.23),
    (-0.18, -0.14),
    (-0.31, -0.18), (-0.23, -0.14), (-0.39, -0.21), (-0.28, -0.12), (-0.36, -0.15), (-0.21, -0.09),
    (-0.32, -0.13),
    (-0.28, -0.08), (-0.37, -0.09), (-0.44, -0.06), (-0.31, -0.04), (-0.24, -0.03), (-0.36, -0.05),
    (-0.33, -0.02),
    (-0.024, -0.344), (-0.032, -0.454), (-0.057, -0.406), (-0.042, -0.297), (-0.076, -0.356),
    (-0.099, -0.464), (-0.135, -0.393), (-0.100, -0.289), (-0.133, -0.314), (-0.176, -0.415),
    (-0.171, -0.335), (-0.121, -0.237), (-0.178, -0.264), (-0.240, -0.356), (-0.238, -0.305),
    (-0.171, -0.218), (-0.231, -0.256), (-0.304, -0.338), (-0.301, -0.262), (-0.218, -0.190),
    (-0.253, -0.191), (-0.341, -0.257), (-0.306, -0.199), (-0.214, -0.139), (-0.261, -0.127),
    (-0.360, -0.175), (-0.324, -0.131), (-0.222, -0.090), (-0.301, -0.098), (-0.406, -0.132),
    (-0.367, -0.071), (-0.259, -0.050), (-0.290, -0.036), (-0.399, -0.049), (-0.341, -0.018),
    (-0.241, -0.013),
]
test1_arm7 = [
    (-0.37, 0.01), (-0.28, 0.02), (-0.32, 0.04), (-0.42, 0.06), (-0.26, 0.07), (-0.35, 0.09),
    (-0.25, 0.09), (-0.33, 0.13), (-0.29, 0.12), (-0.39, 0.16), (-0.22, 0.13), (-0.27, 0.16),
    (-0.30, 0.18), (-0.22, 0.14), (-0.25, 0.19), (-0.33, 0.24), (-0.18, 0.17), (-0.23, 0.22),
    (-0.19, 0.19), (-0.24, 0.25), (-0.17, 0.24), (-0.20, 0.29), (-0.13, 0.20), (-0.15, 0.27),
    (-0.14, 0.22), (-0.16, 0.30), (-0.10, 0.26), (-0.12, 0.33), (-0.08, 0.21), (-0.09, 0.29),
    (-0.06, 0.31), (-0.05, 0.23), (-0.03, 0.27), (-0.04, 0.35), (0.00, 0.22), (0.01, 0.30),
    (-0.276, 0.019), (-0.386, 0.027), (-0.342, 0.048), (-0.233, 0.033), (-0.295, 0.063),
    (-0.403, 0.086), (-0.338, 0.117), (-0.234, 0.081), (-0.262, 0.111), (-0.364, 0.154),
    (-0.287, 0.146), (-0.189, 0.096), (-0.222, 0.150), (-0.313, 0.211), (-0.264, 0.206),
    (-0.177, 0.139), (-0.217, 0.195), (-0.299, 0.269), (-0.228, 0.262), (-0.155, 0.179),
    (-0.159, 0.212), (-0.226, 0.299), (-0.170, 0.262), (-0.110, 0.169), (-0.104, 0.214),
    (-0.153, 0.313), (-0.111, 0.274), (-0.069, 0.172), (-0.081, 0.249), (-0.115, 0.354),
    (-0.060, 0.311), (-0.039, 0.203), (-0.029, 0.233), (-0.042, 0.342), (-0.015, 0.282),
    (-0.010, 0.182),
]
test1_arm8 = [
    (0.03, 0.29), (0.04, 0.22), (0.07, 0.25), (0.06, 0.18), (0.10, 0.22), (0.09, 0.15),
    (0.13, 0.19), (0.12, 0.14), (0.16, 0.12), (0.10, 0.10), (0.14, 0.07), (0.18, 0.06),
    (0.09, 0.05), (0.12, 0.02), (0.08, 0.00), (0.11, -0.04), (0.06, 0.03), (0.05, -0.03),
    (0.02, 0.25), (0.08, 0.28), (0.05, 0.14), (0.12, 0.24), (0.15, 0.16), (0.17, 0.09),
    (0.13, 0.04), (0.07, 0.08), (0.04, 0.01), (0.10, -0.02),
]

test_class0 = (test0_arm1 + test0_arm2 + test0_arm3 + test0_arm4 +
               test0_arm5 + test0_arm6 + test0_arm7 + test0_arm8)
test_class1 = (test1_arm1 + test1_arm2 + test1_arm3 + test1_arm4 +
               test1_arm5 + test1_arm6 + test1_arm7 + test1_arm8)

titles = [
    ("First order ensemble Langevin", "Train accuracy = 99%"),
    ("First order ensemble Langevin", "Test accuracy = 84%"),
]
tick_values = [-1.0, -0.5, 0.0, 0.5, 1.0]
tick_labels = ["\u22121.0", "\u22120.5", "0.0", "0.5", "1.0"]

# ---------------------------------------------------------------
# Styling
# ---------------------------------------------------------------
BLUE = "#0000FF"
ORANGE = "#FFA500"
PEACH = "#FFDAB9"
LIGHTBLUE = "#ADD8E6"
FONT = "DejaVu Sans"
MARKER_SIZE = 8.8


def xy(points):
    return [p[0] for p in points], [p[1] for p in points]


def add_regions(fig, xa, ya):
    fig.add_trace(go.Scatter(x=grid_x, y=grid_y, fill="toself", fillcolor=BLUE,
                             mode="lines", line=dict(width=0), hoverinfo="skip",
                             xaxis=xa, yaxis=ya))
    for poly, col in ((orange_region, ORANGE), (central_pocket, BLUE),
                      (lower_left_pocket, BLUE)):
        px, py = xy(poly)
        fig.add_trace(go.Scatter(x=px, y=py, fill="toself", fillcolor=col,
                                 mode="lines", line=dict(width=0), hoverinfo="skip",
                                 xaxis=xa, yaxis=ya))


def add_points(fig, pts, color, xa, ya):
    px, py = xy(pts)
    fig.add_trace(go.Scatter(x=px, y=py, mode="markers",
                             marker=dict(color=color, size=MARKER_SIZE, line=dict(width=0)),
                             xaxis=xa, yaxis=ya))


fig = go.Figure()
add_regions(fig, "x", "y")
add_points(fig, train_class0, PEACH, "x", "y")
add_points(fig, train_class1, LIGHTBLUE, "x", "y")

add_regions(fig, "x2", "y2")
add_points(fig, test_class0, PEACH, "x2", "y2")
add_points(fig, test_class1, LIGHTBLUE, "x2", "y2")

W, H = 1044, 408
axis_common = dict(
    showgrid=False, zeroline=False, showline=True, linecolor="#333333", linewidth=1,
    ticks="outside", ticklen=4, tickwidth=1, tickcolor="#333333",
    tickvals=tick_values, ticktext=tick_labels,
    tickfont=dict(family=FONT, size=11.5, color="#000000"),
)
y_dom = [1 - 387 / H, 1 - 59 / H]
fig.update_layout(
    width=W, height=H, margin=dict(l=0, r=0, t=0, b=0),
    paper_bgcolor="white", plot_bgcolor="white", showlegend=False,
    xaxis=dict(domain=[47 / W, 488 / W], range=[-1.2115, 1.2115], anchor="y",
               mirror=True, **axis_common),
    yaxis=dict(domain=y_dom, range=[-1.21, 1.21], anchor="x", mirror=True, **axis_common),
    xaxis2=dict(domain=[613.5 / W, 1.0], range=[-1.2115, -1.2115 + 430.5 / 180.0],
                anchor="y2", mirror=True, **axis_common),
    yaxis2=dict(domain=y_dom, range=[-1.21, 1.21], anchor="x2", mirror=False, **axis_common),
)

centers = [267.5 / W, 833 / W]
for cx, (line1, line2) in zip(centers, titles):
    fig.add_annotation(x=cx, y=1 - 23.3 / H, xref="paper", yref="paper", text=line1,
                       showarrow=False, xanchor="center", yanchor="middle",
                       font=dict(family=FONT, size=19.4, color="#000000"))
    fig.add_annotation(x=cx, y=1 - 45.0 / H, xref="paper", yref="paper", text=line2,
                       showarrow=False, xanchor="center", yanchor="middle",
                       font=dict(family=FONT, size=19.4, color="#000000"))

fig.write_html("out.html")
